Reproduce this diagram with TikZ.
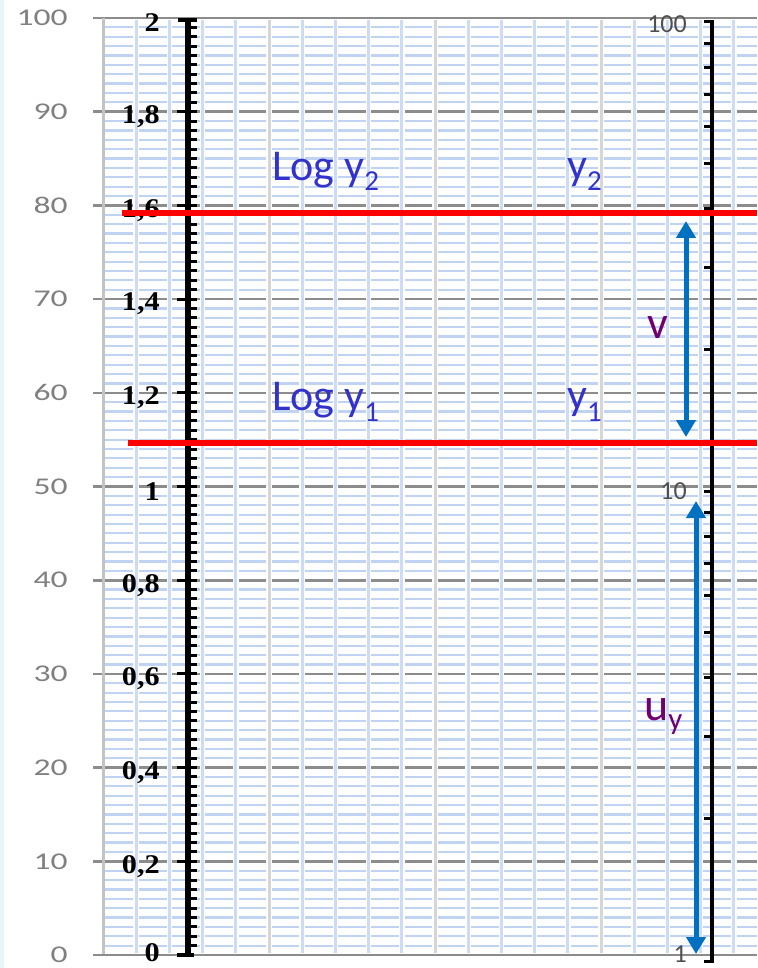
\documentclass[tikz,border=0pt]{standalone}
\usepackage{fontspec}
\setmainfont{Carlito}
\newfontfamily\serifbold{Liberation Serif}[BoldFont=* Bold]
\usetikzlibrary{arrows.meta}

\definecolor{gridgray}{RGB}{140,140,140}
\definecolor{bordergray}{RGB}{195,195,195}
\definecolor{minorblue}{RGB}{192,211,242}
\definecolor{vblue}{RGB}{205,220,244}
\definecolor{vgray}{RGB}{214,214,214}
\definecolor{lblgray}{RGB}{128,128,128}
\definecolor{rlblgray}{RGB}{80,80,80}
\definecolor{txtblue}{RGB}{51,51,204}
\definecolor{txtpurple}{RGB}{112,0,112}
\definecolor{arrblue}{RGB}{0,112,192}
\definecolor{stripblue}{RGB}{234,245,251}

\newcommand{\subtxt}[3]{\raisebox{#1}{\fontsize{#2}{#2}\selectfont #3}}

\begin{document}
\begin{tikzpicture}[x=1pt,y=-1pt,
  minorline/.style={minorblue, line width=2.2pt},
  majorline/.style={gridgray, line width=2.6pt},
  vhalo/.style={white, line width=5.5pt},
  vline/.style={vblue, line width=3pt},
  vgrayline/.style={vgray, line width=3pt},
  glabel/.style={lblgray, font=\fontsize{24}{24}\selectfont, inner sep=0pt, anchor=east, xscale=1.4},
  blabel/.style={black, font=\serifbold\bfseries\fontsize{27}{27}\selectfont, inner sep=0pt, anchor=east, xscale=1.12},
  rlabel/.style={rlblgray, font=\fontsize{26}{26}\selectfont, inner sep=0pt, anchor=east},
  redline/.style={red, line width=6pt},
  bluetxt/.style={txtblue, font=\fontsize{44}{44}\selectfont, inner sep=0pt, anchor=base west},
  purptxt/.style={txtpurple, font=\fontsize{46}{46}\selectfont, inner sep=0pt, anchor=base west},
  dimarrow/.style={arrblue, line width=5pt, {Triangle[width=19pt,length=17pt]}-{Triangle[width=19pt,length=17pt]}},
  axisline/.style={black, line width=6pt},
  logaxis/.style={black, line width=3.5pt},
  ticksty/.style={black, line width=3pt}
]
\useasboundingbox (0,0) rectangle (757,968);
\fill[white] (0,0) rectangle (757,968);
\fill[stripblue] (0,0) rectangle (4,968);

% minor horizontal grid
\foreach \k in {0,...,9}{
  \foreach \j in {1,...,9}{
    \pgfmathsetmacro\yy{18+93.7*\k+9.37*\j}
    \draw[minorline] (103,\yy) -- (757,\yy);
  }
}
% major horizontal grid
\foreach \k in {0,...,10}{
  \pgfmathsetmacro\yy{18+93.7*\k}
  \draw[majorline] (93,\yy) -- (757,\yy);
}
% vertical grid
\foreach \i in {1,...,19}{
  \pgfmathsetmacro\xx{103+33.2*\i}
  \pgfmathtruncatemacro\mm{mod(\i,5)}
  \draw[vhalo] (\xx,20.5) -- (\xx,952.5);
  \ifnum\mm=0
    \draw[vgrayline] (\xx,20.5) -- (\xx,952.5);
  \else
    \draw[vline] (\xx,20.5) -- (\xx,952.5);
  \fi
}
% plot border
\draw[bordergray, line width=3pt] (103,18) -- (103,955);
\draw[majorline] (93,955) -- (757,955);

% left grey labels
\foreach \v [count=\k from 0] in {100,90,80,70,60,50,40,30,20,10,0}{
  \pgfmathsetmacro\yy{18+93.7*\k}
  \node[glabel] (g\k) at (68,\yy) {\v};
}

% black log-value axis
\draw[axisline] (188,20) -- (188,955);
\draw[black, line width=4pt] (178,20) -- (197,20);
\draw[black, line width=4pt] (177,955) -- (194,955);
\foreach \k in {0,...,9}{
  \foreach \j in {1,...,9}{
    \pgfmathsetmacro\yy{18+93.7*\k+9.37*\j}
    \draw[ticksty] (188,\yy) -- (197,\yy);
  }
}
\foreach \k in {1,...,9}{
  \pgfmathsetmacro\yy{18+93.7*\k}
  \draw[ticksty] (177,\yy) -- (197,\yy);
}
\foreach \v [count=\k from 0] in {2,{1,8},{1,6},{1,4},{1,2},1,{0,8},{0,6},{0,4},{0,2}}{
  \pgfmathsetmacro\yy{18+93.7*\k+5}
  \node[blabel] (b\k) at (160,\yy) {\v};
}
\node[blabel] (b10) at (160,953) {0};

% right logarithmic axis
\draw[logaxis] (712,22) -- (712,961);
\draw[ticksty] (704,22) -- (713.5,22);
\draw[ticksty] (704,961) -- (713.5,961);
\foreach \v in {2,3,4,5,6,7,8,9,10,20,30,40,50,60,70,80,90}{
  \pgfmathsetmacro\yy{960-469*log10(\v)}
  \draw[ticksty] (704,\yy) -- (712,\yy);
}
\node[rlabel] (r100) at (687,24) {100};
\node[rlabel] (r10) at (687,491) {10};
\node[rlabel] (r1) at (687,954) {1};

% red lines
\draw[redline] (122,213) -- (757,213);
\draw[redline] (128,443) -- (757,443);

% texts
\node[bluetxt] (logy2) at (272,181) {Log y\subtxt{-10pt}{29}{2}};
\node[bluetxt] (y2) at (567,180) {y\subtxt{-11pt}{29}{2}};
\node[bluetxt] (logy1) at (272,410) {Log y\subtxt{-11pt}{29}{1}};
\node[bluetxt] (y1) at (567,409) {y\subtxt{-12pt}{29}{1}};
\node[purptxt] (vlab) at (647,338) {v};
\node[purptxt] (uylab) at (644,720) {u\subtxt{-9.5pt}{31}{y}};

% arrows
\coordinate (va) at (686,221);
\coordinate (vb) at (686,437);
\coordinate (ua) at (696,501);
\coordinate (ub) at (696,954);
\draw[dimarrow] (va) -- (vb);
\draw[dimarrow] (ua) -- (ub);
\end{tikzpicture}
\end{document}
